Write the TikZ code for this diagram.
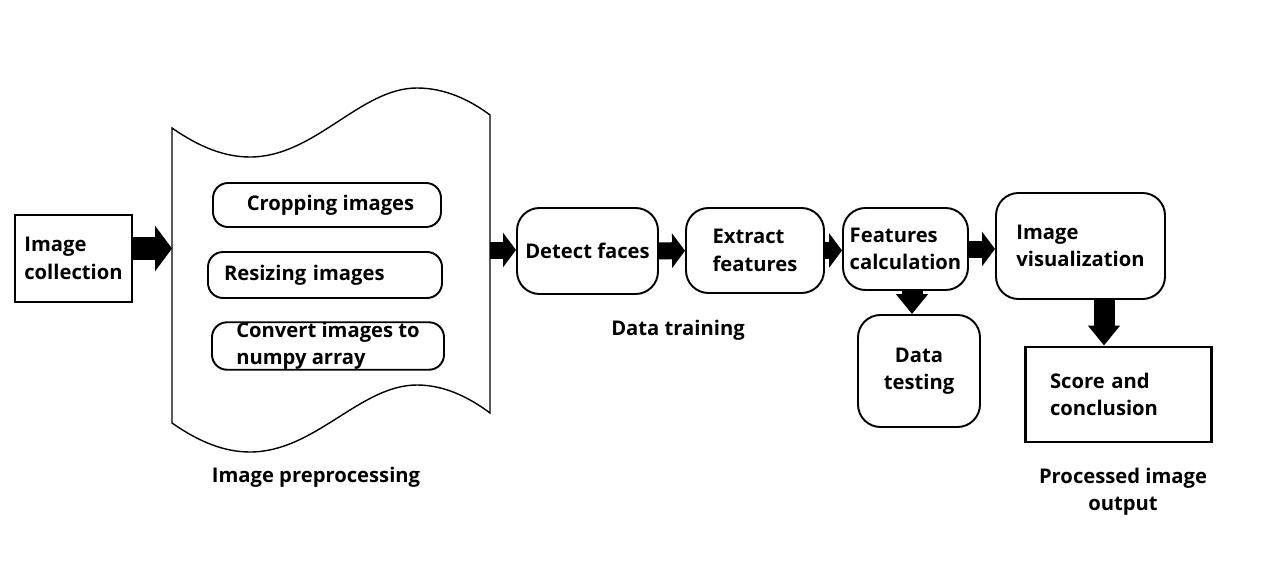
\documentclass[tikz,border=0pt]{standalone}
\usepackage{fontspec}
\setmainfont{Open Sans}
\usetikzlibrary{arrows.meta}

\begin{document}
\begin{tikzpicture}[
  every node/.style={font=\bfseries\fontsize{11.5}{15.5}\selectfont},
  box/.style={draw, line width=1.1pt, rounded corners=0.45cm, align=left},
  sqbox/.style={draw, line width=1.7pt, align=left},
  inbox/.style={draw, line width=1.1pt, rounded corners=0.3cm, align=left, inner ysep=0pt},
  lbl/.style={align=center},
  doc/.style={line width=0.8pt},
  fat/.style={line width=0.34cm, -{Triangle[length=0.26cm, width=0.68cm]}},
  fatbig/.style={line width=0.46cm, -{Triangle[length=0.34cm, width=0.9cm]}},
  fatdown/.style={line width=0.42cm, -{Triangle[length=0.4cm, width=0.62cm]}},
]
\useasboundingbox (0,0) rectangle (25.68,-11.52);
%\draw[help lines] (0,0) grid (25.68,-11.52);

% preprocessing sheet
\draw[doc] (3.44,-2.56) .. controls (4.0,-2.95) and (4.5,-3.14) .. (5.0,-3.14)
  .. controls (6.3,-3.14) and (7.2,-1.76) .. (8.34,-1.76)
  .. controls (8.9,-1.76) and (9.4,-2.0) .. (9.80,-2.30)
  -- (9.80,-8.26) .. controls (9.4,-7.96) and (8.9,-7.70) .. (8.34,-7.70)
  .. controls (7.2,-7.70) and (6.3,-9.04) .. (5.0,-9.04)
  .. controls (4.5,-9.04) and (4.0,-8.85) .. (3.44,-8.46) -- cycle;
\coordinate (docin) at (3.44,-4.97);
\coordinate (docout) at (9.80,-5.0);

\node[sqbox, minimum width=2.34cm, minimum height=1.74cm] (coll) at (1.47,-5.17) {Image\\collection};

\node[inbox, minimum width=4.56cm, minimum height=0.88cm] (crop) at (6.54,-4.10) {\hspace*{0.14cm}Cropping images};
\node[inbox, minimum width=4.68cm, minimum height=0.92cm, text width=4.04cm, inner xsep=0.32cm] (resize) at (6.50,-5.50) {Resizing images};
\node[inbox, minimum width=4.64cm, minimum height=0.94cm] (numpy) at (6.56,-6.92) {Convert images to\\numpy array};

\node[box, minimum width=2.82cm, minimum height=1.72cm, align=center] (detect) at (11.75,-5.02) {Detect faces};
\node[box, minimum width=2.76cm, minimum height=1.70cm] (extract) at (15.10,-5.01) {Extract\\features};
\node[box, minimum width=2.50cm, minimum height=1.64cm, inner xsep=0pt] (calc) at (18.11,-4.98) {Features\\calculation};
\node[box, minimum width=3.38cm, minimum height=2.12cm] (vis) at (21.61,-4.92) {Image\\visualization};
\node[box, minimum width=2.44cm, minimum height=2.24cm, align=center] (test) at (18.38,-7.42) {Data\\testing};
\node[sqbox, minimum width=3.72cm, minimum height=1.90cm, text width=2.72cm, inner xsep=0.5cm] (score) at (22.36,-7.89) {Score and\\conclusion};

\node[lbl] (prep) at (6.32,-9.54) {Image preprocessing};
\node[lbl] (train) at (13.56,-6.60) {Data training};
\node[lbl] (outp) at (22.46,-9.84) {Processed image\\output};

\draw[fatbig] (coll.east |- docin) -- (docin);
\draw[fat] (docout) -- (docout -| detect.west);
\draw[fat] (detect) -- (extract);
\draw[fat] (extract.east) -- (extract.east -| calc.west);
\draw[fat] (calc.east) -- (calc.east -| vis.west);
\draw[fatdown] ([xshift=0.13cm]calc.south) -- ([xshift=0.13cm]calc.south |- test.north);
\draw[fatdown] ([xshift=0.47cm]vis.south) -- ([xshift=0.47cm]vis.south |- score.north);
\end{tikzpicture}
\end{document}
